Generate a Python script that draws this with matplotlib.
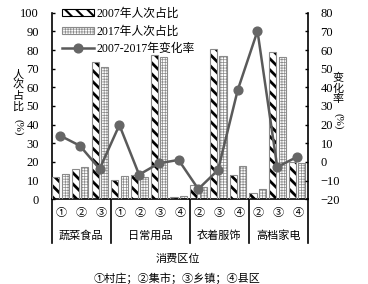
import numpy as np
import matplotlib
matplotlib.use("Agg")
import matplotlib.pyplot as plt
from matplotlib.patches import Patch
from matplotlib.lines import Line2D

plt.rcParams['font.family'] = ['Liberation Serif', 'Noto Sans CJK SC', 'DejaVu Sans']
plt.rcParams['hatch.linewidth'] = 2.0

pos_labels = ['①', '②', '③', '①', '②', '③', '④', '②', '③', '④', '②', '③', '④']
groups = ['蔬菜食品', '日常用品', '衣着服饰', '高档家电']
group_sizes = [3, 4, 3, 3]
share_2007 = [11.8, 16.1, 73.7, 10.3, 12.8, 77.1, 1.4, 7.5, 80.3, 13.2, 3.2, 78.7, 19.8]
share_2017 = [13.5, 17.3, 70.7, 12.3, 11.9, 76.0, 1.6, 6.4, 76.8, 18.0, 5.3, 76.0, 19.6]
change_rate = [14.1, 8.7, -3.7, 19.8, -6.8, -0.7, 1.1, -14.5, -4.3, 38.6, 70.2, -2.7, 2.7]
series_names = ['2007年人次占比', '2017年人次占比', '2007-2017年变化率']

W, H = 368, 284
fig = plt.figure(figsize=(W / 100, H / 100), dpi=100)
ax_l, ax_r, ax_b, ax_t = 51.5, 308.0, 199.3, 12.7
ax = fig.add_axes([ax_l / W, 1 - ax_b / H, (ax_r - ax_l) / W, (ax_b - ax_t) / H])
ax2 = ax.twinx()

x = np.arange(len(pos_labels))
bw = 0.36
hatch17 = '++++++'

b1 = ax.bar(x - 0.29, share_2007, bw, color='white', edgecolor='black', linewidth=0, hatch='\\\\\\', zorder=2)
b2 = ax.bar(x + 0.19, share_2017, bw, color='white', edgecolor='#8a8a8a', linewidth=0, hatch=hatch17, zorder=2)
for bars, lw in ((b1, 2.0), (b2, 0.5)):
    for p in bars:
        if hasattr(p, 'set_hatch_linewidth'):
            p.set_hatch_linewidth(lw)
ax.bar(x - 0.29, share_2007, bw, fill=False, edgecolor='#8a8a8a', linewidth=0.8, zorder=3)
ax.bar(x + 0.19, share_2017, bw, fill=False, edgecolor='#8a8a8a', linewidth=0.8, zorder=3)

ax2.plot(x - 0.06, change_rate, color='#5a5a5a', linewidth=1.8, marker='o', markersize=6.3,
         markerfacecolor='#666666', markeredgecolor='#666666', zorder=4)

ax.set_xlim(-0.5, len(pos_labels) - 0.5)
ax.set_ylim(0, 100)
ax2.set_ylim(-20, 80)
ax.set_yticks(np.arange(0, 101, 10))
ax2.set_yticks(np.arange(-20, 81, 10))
ax.set_xticks([])

for a in (ax, ax2):
    a.spines['top'].set_visible(False)
    a.tick_params(axis='y', direction='in', length=2.5, width=1, labelsize=9, pad=9)
    for s in ('left', 'right', 'bottom'):
        a.spines[s].set_linewidth(1.2)
ax.spines['right'].set_visible(False)
ax2.spines['left'].set_visible(False)
ax2.spines['bottom'].set_visible(False)
for t in ax2.get_yticklabels():
    t.set_horizontalalignment('left')

# divider lines below axis
trans = ax.get_xaxis_transform()
ylow = -(243 - ax_b) / (ax_b - ax_t)
bounds = np.cumsum([0] + group_sizes) - 0.5
for bx in bounds:
    ax.add_line(Line2D([bx, bx], [0, ylow], transform=trans, color='black', linewidth=1.2, clip_on=False))

yp = -(213 - ax_b) / (ax_b - ax_t)
for xi, lab in zip(x, pos_labels):
    ax.text(xi, yp, lab, transform=trans, ha='center', va='center', fontsize=8)
yg = -(235.5 - ax_b) / (ax_b - ax_t)
for i, g in enumerate(groups):
    ax.text((bounds[i] + bounds[i + 1]) / 2, yg, g, transform=trans, ha='center', va='center', fontsize=8)

fig.text(178 / W, 1 - 259 / H, '消费区位', ha='center', va='center', fontsize=8)
fig.text(177 / W, 1 - 278 / H, '①村庄；②集市；③乡镇；④县区', ha='center', va='center', fontsize=8)

# y labels (stacked)
for i, ch in enumerate('人次占比'):
    fig.text(18 / W, 1 - (75 + i * 10.5) / H, ch, ha='center', va='center', fontsize=8)
fig.text(18 / W, 1 - 127 / H, '(%)', ha='center', va='center', fontsize=8, rotation=-90)
for i, ch in enumerate('变化率'):
    fig.text(338 / W, 1 - (78 + i * 10.5) / H, ch, ha='center', va='center', fontsize=8)
fig.text(338 / W, 1 - 121 / H, '(%)', ha='center', va='center', fontsize=8, rotation=-90)

h1 = Patch(facecolor='white', edgecolor='black', hatch='\\\\\\', linewidth=0.8)
h2 = Patch(facecolor='white', edgecolor='#8a8a8a', hatch=hatch17, linewidth=0.8)
h3 = Line2D([], [], color='#5a5a5a', linewidth=1.8, marker='o', markersize=6.3,
            markerfacecolor='#666666', markeredgecolor='#666666')
leg = fig.legend([h1, h2, h3], series_names, loc='upper left',
                 bbox_to_anchor=(62 / W, 1 - 8 / H), frameon=False, fontsize=8.5,
                 handlelength=2.7, handleheight=0.55, handletextpad=0.2,
                 labelspacing=0.45, borderpad=0, borderaxespad=0)
for p, lw in zip(leg.get_patches(), (1.5, 0.5)):
    if hasattr(p, 'set_hatch_linewidth'):
        p.set_hatch_linewidth(lw)

fig.savefig('out.png', dpi=100)
